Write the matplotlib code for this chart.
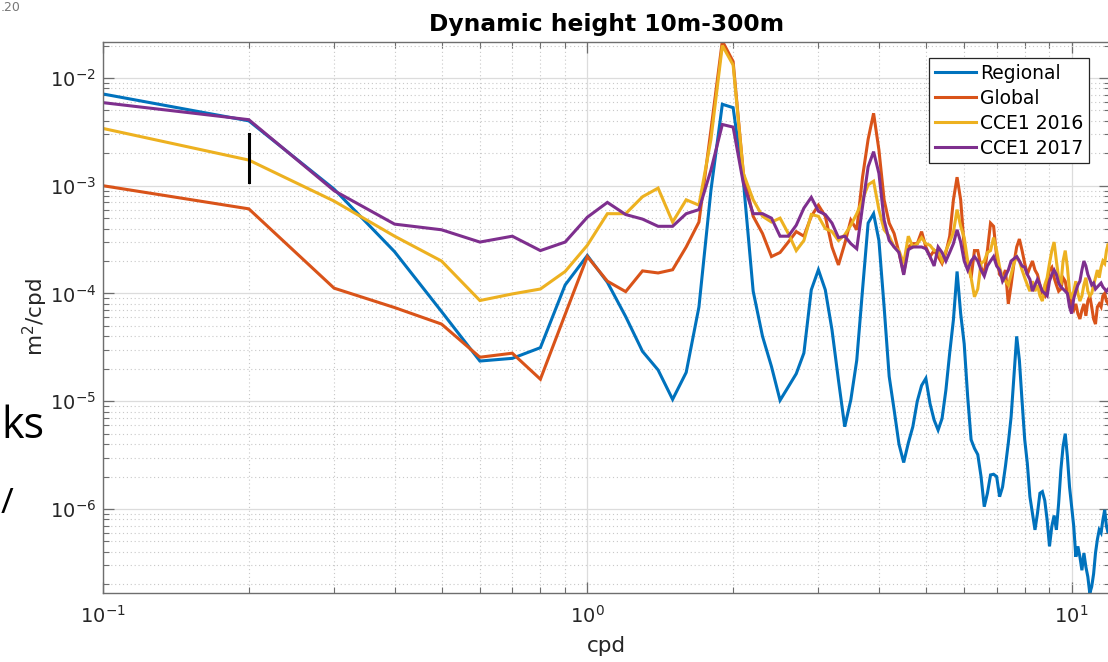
import numpy as np
import matplotlib
matplotlib.use("Agg")
import matplotlib.pyplot as plt
from matplotlib.ticker import LogLocator, NullFormatter

# frequency grid (cpd)
freq = np.round(np.arange(1, 121) * 0.1, 1)

regional = [
    7.1e-3, 4.0e-3, 9.3e-4, 2.44e-4, 6.8e-5, 2.36e-5, 2.5e-5, 3.14e-5, 1.2e-4, 2.25e-4,
    1.27e-4, 6.1e-5, 2.9e-5, 1.95e-5, 1.04e-5, 1.85e-5, 7.5e-5, 9.1e-4, 5.7e-3, 5.3e-3,
    1.1e-3, 1.05e-4, 4.0e-5, 2.1e-5, 1.02e-5, 1.36e-5, 1.8e-5, 2.8e-5, 1.08e-4, 1.66e-4,
    1.08e-4, 4.6e-5, 1.57e-5, 5.8e-6, 1.03e-5, 2.4e-5, 1.08e-4, 4.5e-4, 5.5e-4, 3.1e-4,
    7.5e-5, 1.7e-5, 8.3e-6, 4.0e-6, 2.7e-6, 4.1e-6, 5.8e-6, 1.0e-5, 1.4e-5, 1.63e-5,
    9.5e-6, 6.7e-6, 5.4e-6, 6.9e-6, 1.27e-5, 2.8e-5, 5.7e-5, 1.6e-4, 6.5e-5, 3.4e-5,
    1.1e-5, 4.4e-6, 3.65e-6, 3.2e-6, 2.0e-6, 1.05e-6, 1.4e-6, 2.07e-6, 2.1e-6, 2.0e-6,
    1.3e-6, 1.6e-6, 2.5e-6, 4.1e-6, 7.2e-6, 1.7e-5, 4.0e-5, 2.4e-5, 1.0e-5, 4.4e-6,
    2.65e-6, 1.3e-6, 9.1e-7, 6.4e-7, 9.1e-7, 1.4e-6, 1.45e-6, 1.2e-6, 7.9e-7, 4.5e-7,
    6.9e-7, 8.7e-7, 6.4e-7, 1.13e-6, 2.3e-6, 3.8e-6, 5.0e-6, 3.05e-6, 1.6e-6, 1.05e-6,
    6.9e-7, 3.6e-7, 4.5e-7, 3.6e-7, 2.7e-7, 3.9e-7, 2.9e-7, 2.35e-7, 1.65e-7, 1.9e-7,
    2.5e-7, 3.9e-7, 5.2e-7, 6.4e-7, 6.0e-7, 7.9e-7, 9.8e-7, 6.9e-7, 6.0e-7, 7.9e-7,
]

global_ = [
    1.0e-3, 6.1e-4, 1.12e-4, 7.4e-5, 5.2e-5, 2.56e-5, 2.79e-5, 1.6e-5, 6.4e-5, 2.2e-4,
    1.3e-4, 1.04e-4, 1.62e-4, 1.55e-4, 1.66e-4, 2.7e-4, 4.6e-4, 3.3e-3, 2.2e-2, 1.42e-2,
    1.3e-3, 5.2e-4, 3.6e-4, 2.2e-4, 2.4e-4, 3.0e-4, 3.75e-4, 3.4e-4, 5.2e-4, 6.6e-4,
    5.2e-4, 2.7e-4, 1.84e-4, 2.9e-4, 4.8e-4, 3.9e-4, 1.2e-3, 2.7e-3, 4.7e-3, 2.15e-3,
    7.4e-4, 4.5e-4, 3.6e-4, 2.4e-4, 1.54e-4, 2.7e-4, 2.9e-4, 2.9e-4, 3.75e-4, 2.7e-4,
    2.2e-4, 2.5e-4, 2.2e-4, 1.9e-4, 2.4e-4, 3.4e-4, 7.4e-4, 1.2e-3, 7.4e-4, 2.7e-4,
    1.9e-4, 1.4e-4, 2.5e-4, 2.5e-4, 1.75e-4, 1.5e-4, 2.5e-4, 4.5e-4, 4.2e-4, 2.2e-4,
    1.5e-4, 1.4e-4, 1.65e-4, 8.0e-5, 1.2e-4, 1.9e-4, 2.7e-4, 3.2e-4, 2.5e-4, 1.9e-4,
    1.5e-4, 1.75e-4, 2.0e-4, 1.65e-4, 1.5e-4, 1.2e-4, 1.0e-4, 9.5e-5, 1.3e-4, 1.65e-4,
    1.75e-4, 1.4e-4, 1.2e-4, 1.05e-4, 1.1e-4, 1.4e-4, 1.3e-4, 1.0e-4, 9.5e-5, 7.5e-5,
    7.0e-5, 8.0e-5, 6.5e-5, 5.8e-5, 7.0e-5, 8.0e-5, 6.2e-5, 8.5e-5, 9.5e-5, 7.5e-5,
    5.8e-5, 5.2e-5, 7.5e-5, 8.0e-5, 7.5e-5, 9.5e-5, 1.0e-4, 8.5e-5, 8.0e-5, 7.5e-5,
]

cce1_2016 = [
    3.4e-3, 1.73e-3, 7.2e-4, 3.4e-4, 2.0e-4, 8.6e-5, 9.9e-5, 1.1e-4, 1.6e-4, 2.8e-4,
    5.5e-4, 5.5e-4, 7.9e-4, 9.5e-4, 4.6e-4, 7.4e-4, 6.6e-4, 2.7e-3, 2.0e-2, 1.32e-2,
    1.3e-3, 7.4e-4, 5.2e-4, 4.6e-4, 5.0e-4, 3.6e-4, 2.5e-4, 3.1e-4, 5.4e-4, 5.2e-4,
    4.0e-4, 3.75e-4, 3.1e-4, 3.5e-4, 4.3e-4, 5.5e-4, 7.4e-4, 1.02e-3, 1.1e-3, 6.0e-4,
    3.9e-4, 3.4e-4, 2.7e-4, 2.5e-4, 1.9e-4, 3.4e-4, 2.7e-4, 2.9e-4, 3.3e-4, 2.9e-4,
    2.8e-4, 2.5e-4, 2.5e-4, 2.0e-4, 2.5e-4, 3.0e-4, 3.7e-4, 6.0e-4, 4.2e-4, 3.3e-4,
    2.0e-4, 1.4e-4, 9.3e-5, 1.1e-4, 1.9e-4, 2.0e-4, 2.4e-4, 2.5e-4, 3.3e-4, 2.5e-4,
    1.75e-4, 1.4e-4, 1.3e-4, 1.2e-4, 1.5e-4, 1.9e-4, 2.2e-4, 2.0e-4, 1.65e-4, 1.4e-4,
    1.2e-4, 1.05e-4, 1.3e-4, 1.05e-4, 1.2e-4, 9.5e-5, 8.5e-5, 1.2e-4, 1.4e-4, 1.9e-4,
    2.5e-4, 3.0e-4, 2.0e-4, 1.4e-4, 1.2e-4, 2.0e-4, 2.5e-4, 1.75e-4, 1.05e-4, 9.0e-5,
    1.05e-4, 1.3e-4, 1.0e-4, 8.5e-5, 9.5e-5, 1.2e-4, 1.4e-4, 1.05e-4, 9.5e-5, 1.0e-4,
    1.2e-4, 1.4e-4, 1.65e-4, 1.4e-4, 1.75e-4, 2.0e-4, 1.9e-4, 2.5e-4, 2.9e-4, 2.2e-4,
]

cce1_2017 = [
    5.9e-3, 4.1e-3, 9.0e-4, 4.4e-4, 3.9e-4, 3.0e-4, 3.4e-4, 2.5e-4, 3.0e-4, 5.1e-4,
    7.0e-4, 5.4e-4, 4.9e-4, 4.2e-4, 4.2e-4, 5.5e-4, 6.0e-4, 1.4e-3, 3.7e-3, 3.5e-3,
    1.05e-3, 5.5e-4, 5.5e-4, 5.0e-4, 3.4e-4, 3.4e-4, 4.3e-4, 6.2e-4, 7.8e-4, 5.8e-4,
    5.4e-4, 4.5e-4, 3.3e-4, 3.4e-4, 2.9e-4, 2.6e-4, 6.4e-4, 1.5e-3, 2.07e-3, 1.3e-3,
    4.8e-4, 3.1e-4, 2.7e-4, 2.4e-4, 1.49e-4, 2.55e-4, 2.7e-4, 2.7e-4, 2.7e-4, 2.6e-4,
    2.2e-4, 1.8e-4, 2.7e-4, 2.4e-4, 2.0e-4, 2.4e-4, 2.9e-4, 3.9e-4, 3.0e-4, 2.0e-4,
    1.65e-4, 2.0e-4, 2.2e-4, 2.0e-4, 1.65e-4, 1.45e-4, 1.8e-4, 2.0e-4, 2.2e-4, 1.8e-4,
    1.65e-4, 1.3e-4, 1.45e-4, 1.65e-4, 2.0e-4, 2.1e-4, 2.2e-4, 2.0e-4, 1.8e-4, 1.75e-4,
    1.5e-4, 1.35e-4, 1.05e-4, 1.2e-4, 1.35e-4, 1.2e-4, 1.05e-4, 1.0e-4, 9.5e-5, 1.3e-4,
    1.5e-4, 1.65e-4, 1.5e-4, 1.25e-4, 1.15e-4, 1.1e-4, 1.05e-4, 1.0e-4, 7.5e-5, 6.5e-5,
    9.0e-5, 1.05e-4, 1.2e-4, 1.3e-4, 1.65e-4, 2.0e-4, 1.8e-4, 1.5e-4, 1.35e-4, 1.2e-4,
    1.25e-4, 1.1e-4, 1.15e-4, 1.2e-4, 1.25e-4, 1.15e-4, 1.1e-4, 1.05e-4, 1.1e-4, 1.05e-4,
]

series_labels = ["Regional", "Global", "CCE1 2016", "CCE1 2017"]
series_colors = ["#0072BD", "#D95319", "#EDB120", "#7E2F8E"]

# confidence bar
bar_x = [0.2, 0.2]
bar_y = [1.09e-3, 2.99e-3]

W, H = 1108, 662
fig = plt.figure(figsize=(W / 100, H / 100), dpi=100)
ax = fig.add_axes([103 / W, 68.7 / H, 1007 / W, 551.6 / H])

for vals, lab, col in zip([regional, global_, cce1_2016, cce1_2017], series_labels, series_colors):
    ax.plot(freq, vals, color=col, lw=2.2, label=lab, solid_joinstyle="miter")
ax.plot(bar_x, bar_y, color="black", lw=2.2)

ax.set_xscale("log")
ax.set_yscale("log")
ax.set_xlim(0.1, 12)
ax.set_ylim(1.65e-7, 2.17e-2)

ax.xaxis.set_major_locator(LogLocator(base=10, numticks=10))
ax.yaxis.set_major_locator(LogLocator(base=10, numticks=10))
ax.xaxis.set_minor_locator(LogLocator(base=10, subs=np.arange(2, 10), numticks=20))
ax.yaxis.set_minor_locator(LogLocator(base=10, subs=np.arange(2, 10), numticks=20))
ax.xaxis.set_minor_formatter(NullFormatter())
ax.yaxis.set_minor_formatter(NullFormatter())

ax.set_axisbelow(True)
ax.grid(True, which="major", color="#dcdcdc", linestyle="-", linewidth=0.9)
ax.grid(True, which="minor", color="#c8c8c8", linestyle=(0, (1, 2.5)), linewidth=0.8)

for sp in ax.spines.values():
    sp.set_color("#6e6e6e")
    sp.set_linewidth(1.0)
ax.tick_params(which="both", direction="in", top=True, right=True, colors="#6e6e6e",
               labelcolor="#262626", labelsize=14)
ax.tick_params(which="major", length=8, width=0.9)
ax.tick_params(which="minor", length=4.5, width=0.8)
ax.tick_params(axis="x", pad=8)
ax.tick_params(axis="y", pad=5)

ax.set_title("Dynamic height 10m-300m", fontsize=16.8, fontweight="bold", pad=8)
ax.set_xlabel("cpd", fontsize=15.5, color="#262626", labelpad=7)
ax.set_ylabel("m$^2$/cpd", fontsize=15.5, color="#262626", labelpad=0)

leg = ax.legend(loc="upper right", bbox_to_anchor=(0.979, 0.970), borderaxespad=0,
                fontsize=13.5, frameon=True, fancybox=False, framealpha=1,
                edgecolor="#262626", handlelength=2.2, handletextpad=0.2,
                labelspacing=0.32, borderpad=0.3)
leg.get_frame().set_linewidth(0.9)

# slide fragments visible at the left edge of the screenshot
fig.text(1 / W, 1 - 438 / H, "ks", fontsize=31, family="Open Sans", ha="left",
         va="baseline", color="black")
fig.text(1 / W, 1 - 513 / H, "/", fontsize=25, family="Open Sans", ha="left",
         va="baseline", color="black")
fig.text(1 / W, 1 - 11 / H, ".20", fontsize=9, ha="left", va="baseline", color="#777777")

fig.savefig("out.png", dpi=100)
